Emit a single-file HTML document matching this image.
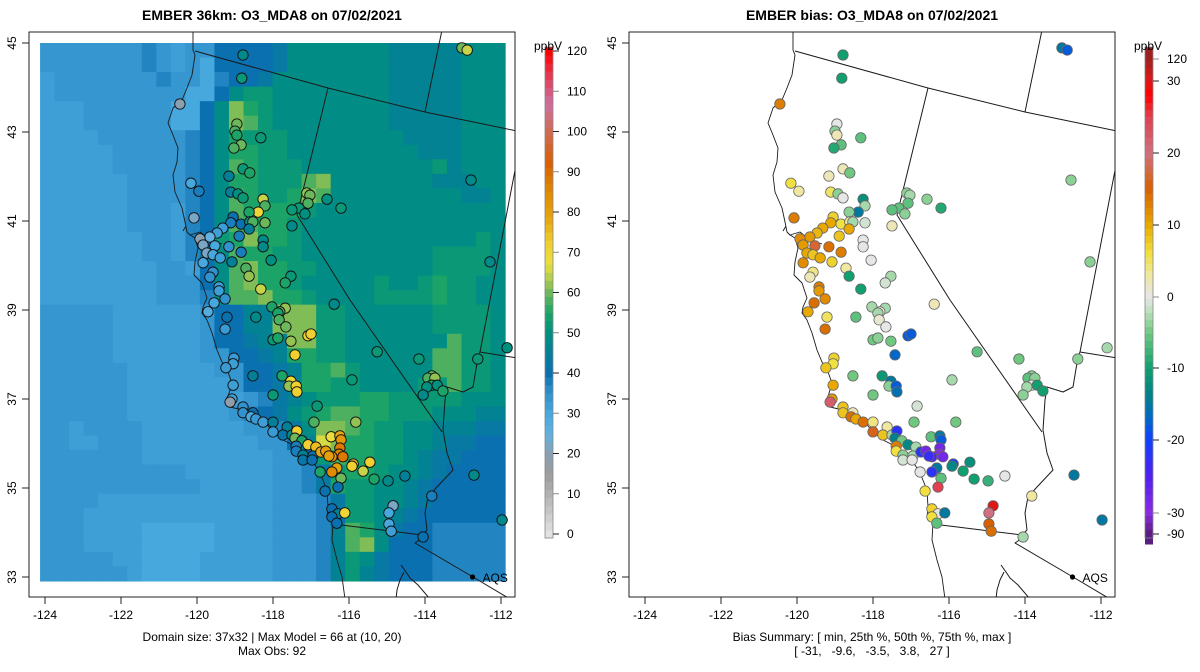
<!DOCTYPE html>
<html><head><meta charset="utf-8"><style>
html,body{margin:0;padding:0;background:#fff;}
svg{display:block;font-family:"Liberation Sans",Arial,sans-serif;}
</style></head><body>
<svg id="chart" width="1200" height="672" viewBox="0 0 1200 672" xmlns="http://www.w3.org/2000/svg">
<defs>
<clipPath id="clipL"><rect x="29" y="32" width="486" height="565"/></clipPath>
<clipPath id="clipR"><rect x="629" y="32" width="486" height="565"/></clipPath>
</defs>
<text x="272" y="20" text-anchor="middle" font-size="14" font-weight="bold">EMBER 36km: O3_MDA8 on 07/02/2021</text>
<text x="872" y="20" text-anchor="middle" font-size="14" font-weight="bold">EMBER bias: O3_MDA8 on 07/02/2021</text>
<g id="panelL"></g>
<g id="panelR"></g>
<text x="272" y="641" text-anchor="middle" font-size="12">Domain size: 37x32 | Max Model = 66 at (10, 20)</text>
<text x="272" y="655" text-anchor="middle" font-size="12">Max Obs: 92</text>
<text x="872" y="641" text-anchor="middle" font-size="12">Bias Summary: [ min, 25th %, 50th %, 75th %, max ]</text>
<text x="872" y="655" text-anchor="middle" font-size="12" xml:space="preserve">[ -31,   -9.6,   -3.5,   3.8,   27 ]</text>
</svg>
<script>
// ---------- data ----------
const xTicks = [-124,-122,-120,-118,-116,-114,-112];
const yTicks = [45,43,41,39,37,35,33];
const modelBarTicks = [0,10,20,30,40,50,60,70,80,90,100,110,120];
const biasBarTicks = [120,30,20,10,0,-10,-20,-30,-90];
const gridRows = [
"22222223212244445777777766666777",
"22222223212044445777777766666777",
"12222222322034457777777766666777",
"12222222220047887777777766666777",
"1112222220047b987777777766666777",
"1112222220047ba87777777766666777",
"11112222223479888777777776666777",
"11111222223479988777777777666777",
"1111122222347a988877777777786777",
"111111222234799888ab777777766677",
"1111112222347a9889ba777777777667",
"1111112221347a999987777777777777",
"1111112221347aa99877777777777777",
"11111112213489b99877777777777787",
"1111111221357a998877777777788887",
"1111111122147ab99887777777788887",
"1111111122247ab99877777877898877",
"1111111122237aab9987777888898877",
"2222211111124466bbb8877777788887",
"2222211111124466bbb8877777788887",
"22222111111244566bb887777777a887",
"222221111112244569988777777aa887",
"22222211111122445699a877777aa887",
"2222221111111244569988777788a887",
"22222211111111235678889988888777",
"222222111111123457 89aa9988877766".replace(/ /g,""),
"2212222111111122357bba9887766655",
"2211222111111112246cb99887765544",
"22222221111111112248a99887655444",
"22222222221111112235899877654444",
"22222222222111112235988776544444",
"22221111111111112223588776544444",
"22211111111111112223488765444444",
"22211110000011112223 6a9754433333".replace(/ /g,""),
"2221111000001111222 36ab744433333".replace(/ /g,"").slice(0,32),
"22222110000111112223687544433333",
"22222210000111112223686544433333"
];
const gridCodeValues = {"0":30,"1":32,"2":34,"3":37,"4":40,"5":43,"6":46,"7":49,"8":52,"9":55,"a":58,"b":61,"c":66};
const gridLon0 = -124.13, gridLat0 = 45.0, gridDLon = 0.3824, gridDLat = 0.3267;

// station arrays
const stLon = [-118.79,-113.03,-112.89,-118.82,-120.45,-118.95,-119.0,-118.95,-118.84,-119.03,-118.32,-118.79,-118.61,-119.16,-120.16,-119.95,-119.11,-118.92,-118.79,-118.26,-118.21,-118.39,-118.63,-119.05,-119.11,-118.84,-118.61,-118.53,-118.63,-118.21,-120.08,-119.32,-119.47,-119.66,-119.92,-119.84,-119.74,-119.53,-119.58,-119.39,-119.84,-119.16,-118.84,-118.89,-119.08,-118.26,-118.26,-118.05,-118.71,-118.63,-119.58,-119.66,-119.42,-119.42,-118.32,-117.53,-117.68,-119.55,-119.26,-116.39,-117.11,-117.03,-117.08,-117.32,-117.5,-117.16,-116.58,-116.21,-117.5,-112.79,-112.29,-118.03,-117.68,-117.82,-119.71,-119.21,-119.26,-118.45,-117.87,-117.84,-117.66,-118.0,-117.87,-117.53,-117.08,-117.0,-117.42,-115.26,-114.16,-113.82,-113.92,-113.74,-113.82,-113.95,-113.68,-113.53,-114.05,-112.61,-111.84,-119.03,-119.05,-119.24,-119.05,-118.53,-117.76,-117.53,-117.58,-117.39,-117.37,-118.0,-115.92,-119.08,-119.13,-118.79,-118.79,-118.53,-118.58,-118.45,-118.26,-118.0,-118.0,-117.63,-117.74,-117.5,-117.37,-116.84,-116.92,-115.82,-117.42,-117.24,-117.39,-117.39,-117.08,-116.87,-117.21,-117.21,-116.95,-116.97,-116.74,-116.61,-116.47,-116.24,-116.21,-116.24,-116.26,-116.16,-116.45,-116.53,-115.89,-115.92,-115.45,-115.63,-116.32,-116.45,-116.76,-116.21,-116.29,-115.34,-114.97,-114.53,-112.71,-116.63,-113.82,-114.84,-114.95,-116.45,-116.29,-116.11,-116.45,-116.32,-114.95,-114.89,-114.05,-111.97];
const stLat = [44.73,44.89,44.84,44.21,43.63,43.18,43.02,42.93,42.71,42.64,42.87,42.17,42.08,42.01,41.85,41.67,41.65,41.61,41.52,41.49,41.34,41.20,41.20,41.09,40.96,40.93,40.98,40.98,40.82,40.96,41.07,40.84,40.73,40.64,40.60,40.46,40.28,40.44,40.24,40.17,40.06,40.42,40.30,40.66,40.08,40.57,40.42,40.12,39.94,39.76,39.85,39.74,39.52,39.43,39.47,39.76,39.61,39.16,39.25,39.13,41.63,41.58,41.40,41.29,41.25,41.16,41.49,41.29,40.89,41.92,40.08,39.07,39.04,38.96,38.96,38.84,38.57,38.84,38.93,38.78,38.62,38.33,38.37,38.30,38.42,38.46,37.99,38.06,37.90,37.52,37.47,37.47,37.31,37.27,37.31,37.18,37.09,37.90,38.15,37.92,37.79,37.70,37.31,37.52,37.52,37.40,37.29,37.29,37.16,37.09,37.43,37.0,36.93,36.82,36.69,36.69,36.60,36.55,36.48,36.48,36.26,36.37,36.19,36.19,36.28,36.84,36.48,36.48,36.12,36.06,35.94,35.83,35.97,35.92,35.74,35.63,35.72,35.63,35.81,35.83,36.15,36.17,36.08,35.90,35.76,35.70,35.70,35.72,35.54,35.49,35.58,35.38,35.45,35.36,35.36,35.22,35.02,35.20,35.16,35.27,35.29,34.93,34.82,34.60,34.44,34.53,34.42,34.44,34.35,34.21,34.19,34.03,33.90,34.28];
const stObs = [48,60,65,52,20,60,58,55,60,58,52,52,55,45,30,38,45,50,52,65,58,70,55,40,38,40,50,58,45,60,22,32,32,25,20,22,22,30,30,32,30,35,38,38,45,48,48,50,58,62,35,35,32,32,65,52,55,30,35,48,62,60,58,52,52,50,50,52,48,48,48,55,62,58,28,40,33,48,55,58,60,52,55,62,72,72,72,52,52,60,58,62,55,50,50,55,48,52,50,33,32,33,32,45,55,70,62,72,72,52,52,32,18,35,35,40,30,33,32,45,33,45,42,48,72,52,58,62,60,55,38,38,72,75,45,42,40,40,78,80,68,78,82,88,86,88,82,80,75,72,72,65,80,85,55,60,40,55,48,45,48,40,38,22,30,40,45,70,40,40,30,32,40,48];
const stBias = [-10,-15,-18,-10,13,0,-4,2,-6,-9,-6,2,-5,2,6,3,5,-4,0,-12,-3,-15,-4,7,10,6,3,-3,10,-1,13,10,9,11,12,11,10,17,8,10,12,14,13,8,7,0,0,0,3,-10,4,2,13,11,-10,-3,-1,14,12,2,-4,-3,-6,-6,-6,-4,-4,-9,2,-4,-4,-3,-3,1,10,5,14,-6,-3,1,0,-5,-4,-5,-18,-18,-17,-6,-5,-4,-6,-4,0,-3,-10,-10,-4,-4,-3,7,6,8,10,-5,-11,-15,-4,-18,-16,-5,-3,11,22,8,8,2,14,10,14,4,16,3,8,-3,-22,-1,-5,-5,-14,-5,13,6,-13,-3,-4,-1,-3,0,-22,-28,-6,-15,-18,-28,-30,-28,-25,-23,-20,-13,-12,-10,-15,-22,0,-6,25,-10,-8,0,-15,6,3,35,20,7,0,-15,6,-6,15,14,-3,-15];
const aqsLon = -112.75, aqsLat = 33.0;

// ---------- scales & palettes ----------
const NS = "http://www.w3.org/2000/svg";
function xS(lon){ return 45 + (lon + 124) * 38; }
function yS(lat){ return 43 + (45 - lat) * 44.5; }
const modelStops = [[0,"#e2e2e2"],[10,"#b2b2b2"],[15,"#9c9c9c"],[20,"#8aa0b2"],[25,"#60b2e2"],[30,"#47a8de"],[35,"#3192cd"],[40,"#0b70b0"],[45,"#047f98"],[50,"#009080"],[55,"#1ca468"],[60,"#6cb85a"],[63,"#a8c850"],[67,"#e8e040"],[72,"#f0d030"],[78,"#e8a810"],[85,"#e08a00"],[92,"#d86000"],[100,"#d06a50"],[107,"#d070a0"],[113,"#e04060"],[120,"#ff0000"]];
const biasStops = [[-90,"#5a1e80"],[-30,"#8a2be2"],[-25,"#5020f0"],[-20,"#1040ff"],[-17,"#0068c8"],[-14,"#00808a"],[-10,"#10a070"],[-5,"#70c880"],[-2,"#c0e0c0"],[0,"#e6e6e6"],[3,"#f0e8a0"],[6,"#f0e040"],[10,"#e8a800"],[15,"#d86000"],[20,"#d07080"],[25,"#e04050"],[28,"#ff0000"],[30,"#e01818"],[120,"#a02020"]];
function hx(c){return [parseInt(c.substr(1,2),16),parseInt(c.substr(3,2),16),parseInt(c.substr(5,2),16)];}
function pal(stops,v){
  if(v<=stops[0][0]) return stops[0][1];
  for(let i=1;i<stops.length;i++){
    if(v<=stops[i][0]){
      const a=stops[i-1],b=stops[i],t=(v-a[0])/(b[0]-a[0]);
      const ca=hx(a[1]),cb=hx(b[1]);
      return "rgb("+ca.map((x,k)=>Math.round(x+(cb[k]-x)*t)).join(",")+")";
    }
  }
  return stops[stops.length-1][1];
}
function mk(tag,attrs,parent){
  const e=document.createElementNS(NS,tag);
  for(const k in attrs) e.setAttribute(k,attrs[k]);
  parent.appendChild(e); return e;
}

const coastPath="M193,30 L193,50 195,55 192,75 187,88 182,100 173,108 168,123 173,135 178,148 177,162 173,175 175,192 182,208 185,222 187,232 190,235 195,238 198,248 195,262 194,275 202,283 207,298 203,307 202,313 207,320 212,333 217,350 222,362 228,372 232,383 227,400 230,407 243,410 263,420 273,432 283,440 297,447 310,457 320,473 327,490 328,507 327,517 333,523 332,540 337,560 342,577 345,599 M190,235 L200,232 210,240 222,244 M186,226 L183,231";
const borderPath="M195,51 L328,88 425,112 517,131 M442,30 L425,112 M328,88 L297,215 350,300 442,432 M517,160 L480,352 517,358 M480,352 L478,357 473,387 463,392 447,387 445,400 443,430 447,453 453,470 437,487 428,497 425,513 427,530 422,535 M333,524 L422,535 418,541 415,543 473,577 510,599 M401,565 L406,572 410,578 418,585 430,599 M404,572 L400,580 397,590 396,599";

const svg=document.getElementById('chart');

function drawPanel(g,offset,clipId,isBias){
  const frame={x:29+offset,y:32,w:486,h:565};
  const inner=mk('g',{'clip-path':'url(#'+clipId+')'},g);
  
  
  if(!isBias){
    const grid=mk('g',{},inner);
    
    
    gridRows.forEach((row,r)=>{
      for(let c=0;c<row.length;c++){
        const v=gridCodeValues[row[c]];
        const x0=xS(gridLon0+c*gridDLon), x1=xS(gridLon0+(c+1)*gridDLon);
        const y0=yS(gridLat0-r*gridDLat), y1=yS(gridLat0-(r+1)*gridDLat);
        const rc=mk('rect',{x:(x0+offset).toFixed(2),y:y0.toFixed(2),width:(x1-x0+0.6).toFixed(2),height:(y1-y0+0.6).toFixed(2),fill:pal(modelStops,v)},grid);
        
        
      }
    });
  }
  const lines=mk('g',{transform:'translate('+offset+',0)',fill:'none',stroke:'#1a1a1a','stroke-width':'1','stroke-linejoin':'round'},inner);
  
  
  const cp=mk('path',{d:coastPath,'stroke-width':'0.9'},lines);
  
  
  const bp=mk('path',{d:borderPath,'stroke-width':'1'},lines);
  
  
  const sg=mk('g',{},inner);
  
  
  for(let i=0;i<stLon.length;i++){
    const col=isBias?pal(biasStops,stBias[i]):pal(modelStops,stObs[i]);
    const ci=mk('circle',{cx:(xS(stLon[i])+offset).toFixed(1),cy:yS(stLat[i]).toFixed(1),r:'5.2',fill:col,stroke:isBias?'#666':'#111','stroke-width':isBias?'0.8':'0.9'},sg);
    
    
  }
  const ad=mk('circle',{cx:xS(aqsLon)+offset,cy:yS(aqsLat),r:'2.6',fill:'#000'},inner);
  
  
  const at=mk('text',{x:xS(aqsLon)+offset+10,y:yS(aqsLat)+5,'font-size':'12'},inner);
  at.textContent='AQS';
  
  
  const fr=mk('rect',{x:frame.x,y:frame.y,width:frame.w,height:frame.h,fill:'none',stroke:'#222','stroke-width':'1'},g);
  
  
  const ax=mk('g',{'font-size':'12',fill:'#000'},g);
  
  
  xTicks.forEach(t=>{
    const x=xS(t)+offset;
    mk('line',{x1:x,x2:x,y1:597,y2:604,stroke:'#222'},ax);
    const tx=mk('text',{x:x,y:619,'text-anchor':'middle'},ax);
    tx.textContent=String(t);
    
    
  });
  const ay=mk('g',{'font-size':'12',fill:'#000'},g);
  
  
  yTicks.forEach(t=>{
    const y=yS(t);
    mk('line',{x1:29+offset,x2:22+offset,y1:y,y2:y,stroke:'#222'},ay);
    const tx=mk('text',{x:16+offset,y:y,'text-anchor':'middle',transform:'rotate(-90 '+(16+offset)+' '+y+')'},ay);
    tx.textContent=String(t);
    
    
  });
}

function drawModelBar(g){
  const cb=mk('g',{},g);
  
  
  const yv=v=>534-v*4.025;
  for(let v=-1;v<121;v+=2){
    mk('rect',{x:545,y:yv(v+2),width:8,height:(2*4.025+0.5),fill:pal(modelStops,Math.max(0,v+1))},cb);
  }
  mk('rect',{x:545,y:47,width:8,height:491,fill:'none',stroke:'#888','stroke-width':'0.8'},cb);
  modelBarTicks.forEach(t=>{
    const y=yv(t);
    mk('line',{x1:553,x2:559,y1:y,y2:y,stroke:(t%20===0)?'#222':'#888'},cb);
    const tx=mk('text',{x:567,y:y+4,'font-size':'12'},cb);
    tx.textContent=String(t);
    
    
  });
  const u=mk('text',{x:548,y:50,'font-size':'12','text-anchor':'middle'},cb);
  u.textContent='ppbV';
  
  
}

function drawBiasBar(g){
  const cb=mk('g',{},g);
  
  
  const pos=[59,81,153,225,297,368,440,513,534];
  const yOf=v=>{
    for(let i=1;i<biasBarTicks.length;i++){
      const a=biasBarTicks[i-1],b=biasBarTicks[i];
      if(v<=a && v>=b) return pos[i-1]+(a-v)/(a-b)*(pos[i]-pos[i-1]);
    }
    return v>biasBarTicks[0]?pos[0]:pos[pos.length-1];
  };
  const vOf=y=>{
    if(y<=pos[0]) return 120; if(y>=pos[pos.length-1]) return -90;
    for(let i=1;i<pos.length;i++){
      if(y<=pos[i]){ const t=(y-pos[i-1])/(pos[i]-pos[i-1]); return biasBarTicks[i-1]+t*(biasBarTicks[i]-biasBarTicks[i-1]); }
    }
  };
  for(let y=47;y<538;y+=7){
    mk('rect',{x:1145,y:y,width:8,height:7.5,fill:pal(biasStops,vOf(y+3.5))},cb);
  }
  mk('rect',{x:1145,y:47,width:8,height:491,fill:'none',stroke:'#888','stroke-width':'0.8'},cb);
  biasBarTicks.forEach(t=>{
    const y=yOf(t);
    mk('line',{x1:1153,x2:1159,y1:y,y2:y,stroke:(t===120||t===0||t===-30)?'#888':'#222'},cb);
    const tx=mk('text',{x:1167,y:y+4,'font-size':'12'},cb);
    tx.textContent=String(t);
    
    
  });
  const u=mk('text',{x:1148,y:50,'font-size':'12','text-anchor':'middle'},cb);
  u.textContent='ppbV';
  
  
}

const pL=document.getElementById('panelL'), pR=document.getElementById('panelR');
drawPanel(pL,0,'clipL',false);
drawModelBar(pL);
drawPanel(pR,600,'clipR',true);
drawBiasBar(pR);
</script>
</body></html>
